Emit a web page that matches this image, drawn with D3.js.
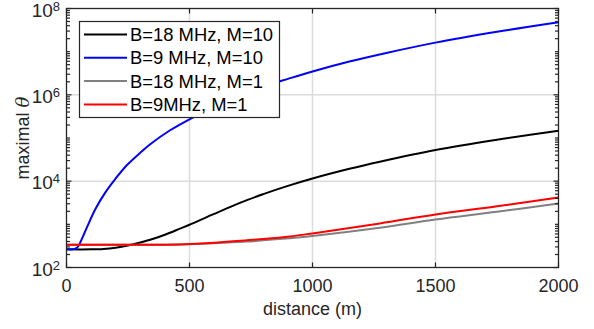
<!DOCTYPE html>
<html><head><meta charset="utf-8">
<script src="https://cdn.jsdelivr.net/npm/d3@7"></script>
<style>
html,body{margin:0;padding:0;background:#fff;}
svg{display:block;font-family:"Liberation Sans",Arial,Helvetica,sans-serif;}
</style>
</head><body>
<svg id="chart" width="594" height="329"></svg>
<script>
// ---- data ----
const seriesNames  = ["B=18 MHz, M=10", "B=9 MHz, M=10", "B=18 MHz, M=1", "B=9MHz, M=1"];
const seriesColors = ["#000000", "#0000ff", "#808080", "#ff0000"];

const distBlack  = [0, 100, 150, 200, 250, 300, 350, 400, 461, 500, 600, 733, 800, 900, 1000, 1150, 1274, 1500, 1750, 2000];
const thetaBlack = [263, 263, 269, 288, 324, 380, 457, 575, 794, 977, 1740, 3630, 5010, 7760, 11500, 19300, 28200, 52500, 91200, 148000];

const distBlue  = [0, 25, 40, 50, 63, 83, 117, 158, 198, 245, 300, 339, 421, 515, 600, 700, 800, 900, 1000, 1150, 1300, 1500, 1750, 2000];
const thetaBlue = [263, 264, 282, 324, 468, 851, 2240, 5500, 11200, 23400, 45700, 70800, 151000, 302000, 537000, 955000, 1550000, 2340000, 3470000, 5890000, 9330000, 16200000, 28800000, 47900000];

const distGray  = [0, 250, 461, 600, 733, 800, 909, 1000, 1274, 1500, 1750, 2000];
const thetaGray = [335, 337, 341, 363, 398, 427, 479, 537, 832, 1290, 1950, 3020];

const distRed  = [0, 250, 461, 600, 733, 800, 909, 1000, 1274, 1500, 1750, 2000];
const thetaRed = [335, 337, 343, 372, 427, 457, 525, 617, 1050, 1700, 2630, 4170];

const xTickValues = [0, 500, 1000, 1500, 2000];
const xGridValues = [500, 1000, 1500];
const yTickExponents = [2, 4, 6, 8];
const yGridExponents = [4, 6];
const xLabel = "distance (m)";
const yLabelText = "maximal ";
const yLabelSymbol = "θ";

// ---- drawing ----
const svg = d3.select("#chart");
const L = 66.5, R = 558.5, T = 8.5, B = 267.5;
const axisColor = "#262626";

const x = d3.scaleLinear().domain([0, 2000]).range([L, R]);
const y = d3.scaleLog().domain([1e2, 1e8]).range([B, T]);

// grid
const grid = svg.append("g");
grid.selectAll("line.gx").data(xGridValues).join("line")
  .attr("x1", d => x(d)).attr("x2", d => x(d)).attr("y1", T).attr("y2", B)
  .attr("stroke", "#dcdcdc").attr("stroke-width", 1.5);
grid.selectAll("line.gy").data(yGridExponents).join("line")
  .attr("x1", L).attr("x2", R).attr("y1", d => y(Math.pow(10, d))).attr("y2", d => y(Math.pow(10, d)))
  .attr("stroke", "#dcdcdc").attr("stroke-width", 1.5);

// curves
svg.append("clipPath").attr("id", "clip").append("rect")
  .attr("x", L).attr("y", T).attr("width", R - L).attr("height", B - T);
const line = d3.line().x(d => x(d[0])).y(d => y(d[1])).curve(d3.curveCatmullRom.alpha(0.5));
const seriesData = [
  d3.zip(distBlack, thetaBlack),
  d3.zip(distBlue, thetaBlue),
  d3.zip(distGray, thetaGray),
  d3.zip(distRed, thetaRed)
];
const curves = svg.append("g").attr("clip-path", "url(#clip)");
seriesData.forEach((s, i) => {
  curves.append("path").datum(s).attr("d", line)
    .attr("fill", "none").attr("stroke", seriesColors[i]).attr("stroke-width", 2)
    .attr("stroke-linejoin", "round");
});

// axes box
svg.append("rect").attr("x", L).attr("y", T).attr("width", R - L).attr("height", B - T)
  .attr("fill", "none").attr("stroke", axisColor).attr("stroke-width", 1.3);

// x ticks (inside, bottom and top)
const ticks = svg.append("g").attr("stroke", axisColor).attr("stroke-width", 1.2);
xTickValues.forEach(v => {
  ticks.append("line").attr("x1", x(v)).attr("x2", x(v)).attr("y1", B).attr("y2", B - 5);
  ticks.append("line").attr("x1", x(v)).attr("x2", x(v)).attr("y1", T).attr("y2", T + 5);
});
// y ticks (log, inside, left and right)
y.ticks().forEach(v => {
  const e = Math.log10(v);
  const major = Math.abs(e - Math.round(e)) < 1e-9 && Math.round(e) % 2 === 0;
  const len = major ? 5 : 3.5;
  ticks.append("line").attr("x1", L).attr("x2", L + len).attr("y1", y(v)).attr("y2", y(v));
  ticks.append("line").attr("x1", R).attr("x2", R - len).attr("y1", y(v)).attr("y2", y(v));
});

// x tick labels
svg.append("g").selectAll("text").data(xTickValues).join("text")
  .attr("x", d => x(d)).attr("y", 292)
  .attr("text-anchor", "middle").attr("font-size", 18).attr("fill", axisColor)
  .text(d => d);

// y tick labels 10^n
const yl = svg.append("g");
yTickExponents.forEach(e => {
  const t = yl.append("text").attr("x", 60).attr("y", y(Math.pow(10, e)) + 8)
    .attr("text-anchor", "end").attr("font-size", 19).attr("fill", axisColor);
  t.append("tspan").text("10");
  t.append("tspan").attr("dy", -6).attr("font-size", 13).text(e);
});

// axis labels
svg.append("text").attr("x", (L + R) / 2).attr("y", 315)
  .attr("text-anchor", "middle").attr("font-size", 18).attr("fill", axisColor)
  .text(xLabel);
const ylab = svg.append("text")
  .attr("transform", `translate(29,${(T + B) / 2}) rotate(-90)`)
  .attr("text-anchor", "middle").attr("font-size", 18).attr("fill", axisColor);
ylab.append("tspan").text(yLabelText);
ylab.append("tspan").attr("font-style", "italic").attr("font-family", "'DejaVu Serif','Liberation Serif',serif").text(yLabelSymbol);

// legend
const lg = svg.append("g");
lg.append("rect").attr("x", 79.5).attr("y", 21.5).attr("width", 200).attr("height", 96)
  .attr("fill", "#fff").attr("stroke", axisColor).attr("stroke-width", 1.2);
seriesNames.forEach((name, i) => {
  const cy = 34.5 + i * 23.3;
  lg.append("line").attr("x1", 84).attr("x2", 127).attr("y1", cy).attr("y2", cy)
    .attr("stroke", seriesColors[i]).attr("stroke-width", 2);
  lg.append("text").attr("x", 130).attr("y", cy + 6.5)
    .attr("font-size", 18.4).attr("fill", "#000").text(name);
});
</script>
</body></html>
